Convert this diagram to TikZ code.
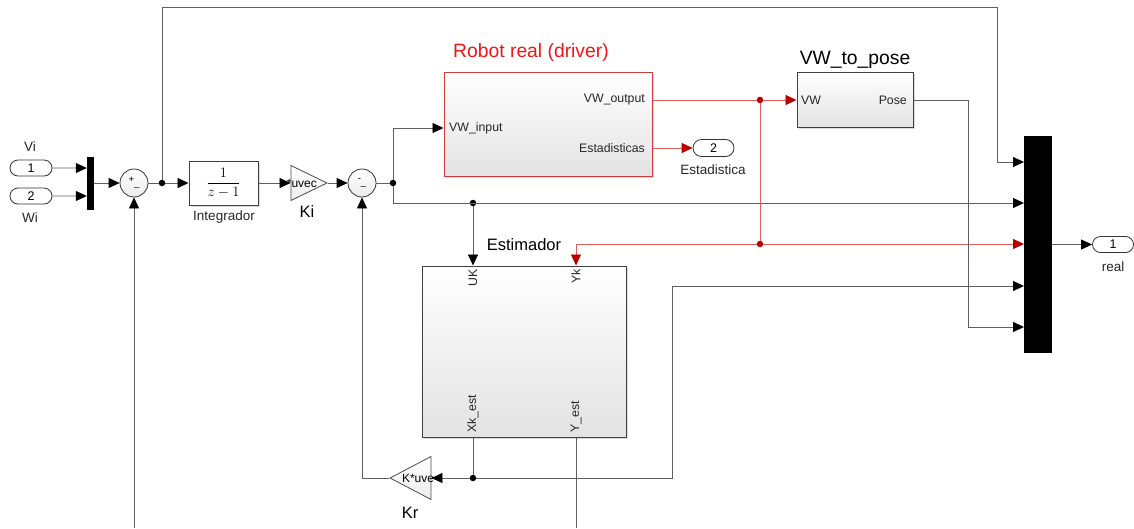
\documentclass[tikz,border=0pt]{standalone}
\usepackage{fontspec}
\setmainfont{Liberation Sans}
\usepackage{tikz}
\usetikzlibrary{positioning,arrows.meta,shapes.geometric,shapes.misc,shadows,calc}
\definecolor{wirecolor}{RGB}{95,95,95}
\definecolor{redwire}{RGB}{222,95,95}
\definecolor{redhead}{RGB}{185,0,0}
\definecolor{robotred}{RGB}{240,20,20}
\definecolor{robotedge}{RGB}{205,60,60}
\newcommand{\sumsigns}[1]{{\fontsize{9.5}{9.5}\selectfont #1\raisebox{-4pt}{\_}}}
\tikzset{
  sim block/.style={
    rectangle,
    draw=black!75,
    line width=1pt,
    top color=white,
    bottom color=gray!22,
    drop shadow={shadow xshift=1.5pt, shadow yshift=-1.5pt, fill=gray!55},
    inner sep=0pt
  },
  io port/.style={
    rounded rectangle,
    draw=black!80,
    line width=0.8pt,
    fill=white,
    minimum width=42pt,
    minimum height=16pt,
    inner sep=0pt,
    font=\fontsize{12.5}{12.5}\selectfont
  },
  io label/.style={font=\fontsize{13.5}{14}\selectfont, text=black!85, inner sep=0pt},
  port txt/.style={font=\fontsize{12.3}{13}\selectfont, text=black!85, inner sep=0pt},
  blk title/.style={font=\fontsize{19.3}{20}\selectfont, inner sep=0pt},
  gain title/.style={font=\fontsize{16.5}{17}\selectfont, inner sep=0pt},
  gain txt/.style={font=\fontsize{12}{12}\selectfont, inner sep=0pt},
  sum node/.style={
    circle,
    draw=black!80,
    line width=0.8pt,
    top color=white,
    bottom color=gray!15,
    minimum size=28pt,
    inner sep=0pt
  },
  gain node/.style={
    isosceles triangle,
    isosceles triangle stretches,
    draw=black!70,
    line width=0.8pt,
    top color=white,
    bottom color=gray!15,
    inner sep=0pt
  },
  mux bar/.style={rectangle, fill=black, inner sep=0pt},
  dot/.style={circle, fill=black, inner sep=0pt, minimum size=6.5pt},
  red dot/.style={dot, fill=redhead},
  wire/.style={draw=wirecolor, line width=0.8pt},
  red wire/.style={draw=redwire, line width=0.8pt},
  sig/.style={-{Triangle[length=11pt,width=10pt,color=black]}},
  red sig/.style={-{Triangle[length=11pt,width=10pt,color=redhead]}}
}
\begin{document}
\begin{tikzpicture}[x=1pt,y=-1pt]
  \useasboundingbox (0,0) rectangle (1134,528);

  % Inputs
  \node[io port] (vi) at (31,168) {1};
  \node[io label] (viLbl) at (30,147) {Vi};
  \node[io port] (wi) at (31,196) {2};
  \node[io label] (wiLbl) at (30,218) {Wi};
  \node[mux bar, minimum width=7pt, minimum height=53pt] (muxIn) at (90.5,183) {};

  % Sum, integrator, Ki
  \node[sum node] (sumA) at (134,183) {\sumsigns{+}};
  \node[dot] (jA) at (162,183) {};
  \node[sim block, fill=white, top color=white, bottom color=white,
        minimum width=69pt, minimum height=44pt,
        font=\fontsize{14}{14}\selectfont] (integ) at (223.5,183) {$\displaystyle\frac{1}{z-1}$};
  \node[io label] (integLbl) at (224,217) {Integrador};
  \node[gain node, minimum width=35pt, minimum height=36pt, anchor=apex,
        label={[gain txt]center:*uvec}] (ki) at (328,183) {};
  \node[gain title] (kiLbl) at (307,212) {Ki};
  \node[sum node] (sumB) at (362,183) {\sumsigns{-}};
  \node[dot] (jB) at (393,183) {};

  % Robot real (driver)
  \node[sim block, draw=robotedge, minimum width=208pt, minimum height=104pt] (robot) at (548,124) {};
  \node[blk title, text=robotred] (robotLbl) at (531,53) {Robot real (driver)};
  \node[port txt, anchor=west] (robotIn) at (449,128) {VW\_input};
  \node[port txt, anchor=east] (robotOut) at (645,100) {VW\_output};
  \node[port txt, anchor=east] (robotStat) at (645,148) {Estadisticas};
  \coordinate (rIn) at (robot.west |- robotIn);
  \coordinate (rOut) at (robot.east |- robotOut);
  \coordinate (rStat) at (robot.east |- robotStat);
  \node[io port, minimum width=41pt, minimum height=17pt] (stat) at (713.5,148) {2};
  \node[io label] (statLbl) at (713,170) {Estadistica};

  % VW_to_pose
  \node[sim block, minimum width=116pt, minimum height=55pt] (pose) at (855,100) {};
  \node[blk title] (poseLbl) at (855,60) {VW\_to\_pose};
  \node[port txt, anchor=west] (poseIn) at (801,100) {VW};
  \node[port txt, anchor=east] (poseOut) at (907,100) {Pose};
  \node[red dot] (jR1) at (760,100) {};
  \node[red dot] (jR2) at (760,244) {};

  % Estimador
  \node[sim block, minimum width=204pt, minimum height=171pt] (est) at (524,351.5) {};
  \node[gain title] (estLbl) at (524,245) {Estimador};
  \node[port txt, rotate=90, anchor=east] (estUK) at (473,269) {UK};
  \node[port txt, rotate=90, anchor=east] (estYk) at (576,269) {Yk};
  \node[port txt, rotate=90, anchor=west] (estXk) at (473,433) {Xk\_est};
  \node[port txt, rotate=90, anchor=west] (estYe) at (576,433) {Y\_est};
  \coordinate (uk) at (est.north -| estUK);
  \coordinate (yk) at (est.north -| estYk);
  \coordinate (xk) at (est.south -| estXk);
  \coordinate (ye) at (est.south -| estYe);
  \node[dot] (jC) at (473,203) {};

  % Kr
  \node[gain node, shape border rotate=180, minimum width=43pt, minimum height=41pt, anchor=apex,
        label={[gain txt]center:K*uve}] (kr) at (389,478) {};
  \node[gain title] (krLbl) at (410,513) {Kr};
  \node[dot] (jE) at (473,478) {};

  % Output mux
  \node[mux bar, minimum width=28pt, minimum height=217pt] (muxOut) at (1038,244.5) {};
  \foreach \i/\yy in {1/162,2/203,3/244,4/286,5/327}
    \coordinate (mi\i) at (1024,\yy);
  \node[io port, minimum width=41pt] (real) at (1113,244.5) {1};
  \node[io label] (realLbl) at (1113,267) {real};

  \coordinate (topR) at (997,7);
  \coordinate (ce) at (672,478);
  \coordinate (botA) at (134,528);
  \coordinate (botY) at (576,528);

  % Wires
  \draw[wire, sig] (vi) -- (vi -| muxIn.west);
  \draw[wire, sig] (wi) -- (wi -| muxIn.west);
  \draw[wire, sig] (muxIn) -- (sumA);
  \draw[wire] (sumA) -- (jA);
  \draw[wire, sig] (jA) -- (integ);
  \draw[wire, sig] (jA) |- (topR) |- (mi1);
  \draw[wire, sig] (botA) -- (sumA);
  \draw[wire, sig] (integ) -- (ki.west);
  \draw[wire, sig] (ki.apex) -- (sumB);
  \draw[wire] (sumB) -- (jB);
  \draw[wire, sig] (jB) |- (rIn);
  \draw[wire, sig] (jB) |- (mi2);
  \draw[wire, sig] (jC) -- (uk);
  \draw[red wire] (rOut) -- (jR1);
  \draw[red wire, red sig] (jR1) -- (pose);
  \draw[red wire, red sig] (rStat) -- (stat);
  \draw[red wire] (jR1) -- (jR2);
  \draw[red wire, red sig] (jR2) -| (yk);
  \draw[red wire, red sig] (jR2) -- (mi3);
  \draw[wire, sig] (pose.east) -- ++(55,0) |- (mi5);
  \draw[wire] (xk) -- (jE);
  \draw[wire, sig] (jE) -- (kr);
  \draw[wire, sig] (kr.apex) -| (sumB);
  \draw[wire, sig] (jE) -- (ce) |- (mi4);
  \draw[wire] (ye) -- (botY);
  \draw[wire, sig] (muxOut) -- (real);

\end{tikzpicture}
\end{document}
